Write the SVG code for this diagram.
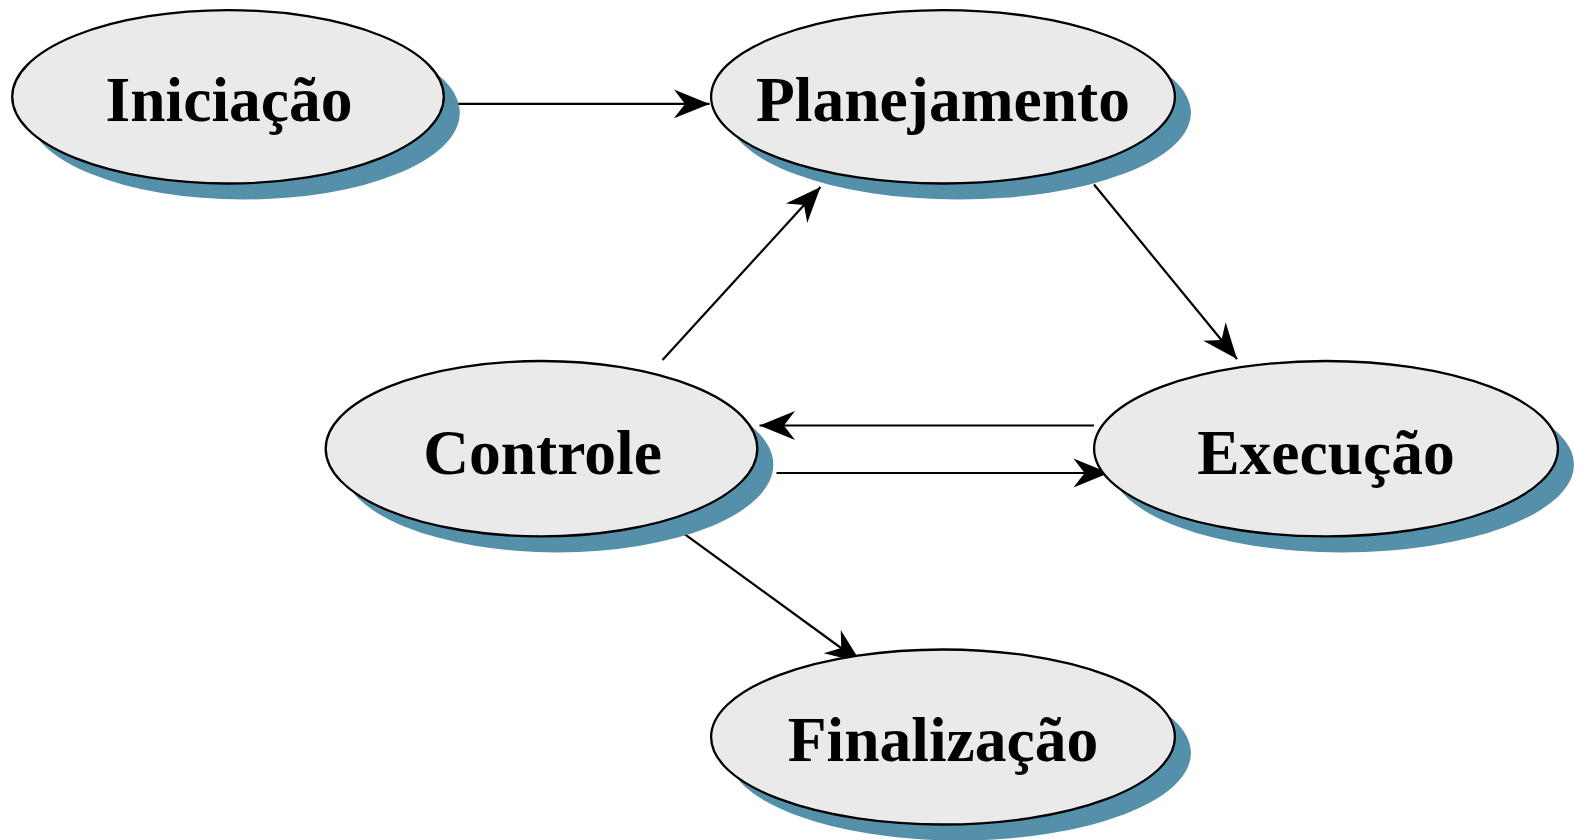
<svg xmlns="http://www.w3.org/2000/svg" width="1581" height="840" viewBox="0 0 1581 840">
<style>
.sh{fill:#5590aa;stroke:none}
.el{fill:#eaeaea;stroke:#000;stroke-width:2.3}
.t{font-family:"Liberation Serif","Times New Roman",serif;font-weight:bold;font-size:63.5px;fill:#000;text-anchor:middle}
.c{stroke:#000;stroke-width:2.2;fill:none;marker-end:url(#ah)}
</style>
<defs>
<marker id="ah" markerUnits="userSpaceOnUse" markerWidth="40" markerHeight="40" viewBox="-34 -17 36 34" refX="0" refY="0" orient="auto">
<path d="M0,0 L-32,-13 L-22,0 L-32,13 Z" fill="#000"/>
</marker>
</defs>
<rect width="1581" height="840" fill="#fff"/>
<g id="connectors">
<line class="c" x1="444.7" y1="103.9" x2="709.5" y2="103.9"/>
<line class="c" x1="662.5" y1="360" x2="820.5" y2="187"/>
<line class="c" x1="1094" y1="184.5" x2="1237" y2="359"/>
<line class="c" x1="1094" y1="425.5" x2="759.5" y2="425.5"/>
<line class="c" x1="776.5" y1="473" x2="1109" y2="473"/>
<line class="c" x1="672.6" y1="525.4" x2="861" y2="662.5"/>
</g>
<g id="iniciacao">
<ellipse class="sh" cx="244" cy="112.8" rx="215.8" ry="86.7"/>
<ellipse class="el" cx="228" cy="96.8" rx="215.8" ry="86.7"/>
<text class="t" x="229" y="121">Iniciação</text>
</g>
<g id="planejamento">
<ellipse class="sh" cx="959" cy="112.8" rx="231.9" ry="86.7"/>
<ellipse class="el" cx="943" cy="96.8" rx="231.9" ry="86.7"/>
<text class="t" x="943" y="121">Planejamento</text>
</g>
<g id="controle">
<ellipse class="sh" cx="557.5" cy="464.7" rx="215.8" ry="87.7"/>
<ellipse class="el" cx="541.5" cy="448.7" rx="215.8" ry="87.7"/>
<text class="t" x="542.5" y="474">Controle</text>
</g>
<g id="execucao">
<ellipse class="sh" cx="1342" cy="464.7" rx="231.9" ry="87.7"/>
<ellipse class="el" cx="1326" cy="448.7" rx="231.9" ry="87.7"/>
<text class="t" x="1326" y="474">Execução</text>
</g>
<g id="finalizacao">
<ellipse class="sh" cx="959" cy="753" rx="231.9" ry="87.5"/>
<ellipse class="el" cx="943" cy="737" rx="231.9" ry="87.5"/>
<text class="t" x="943" y="761">Finalização</text>
</g>
</svg>
